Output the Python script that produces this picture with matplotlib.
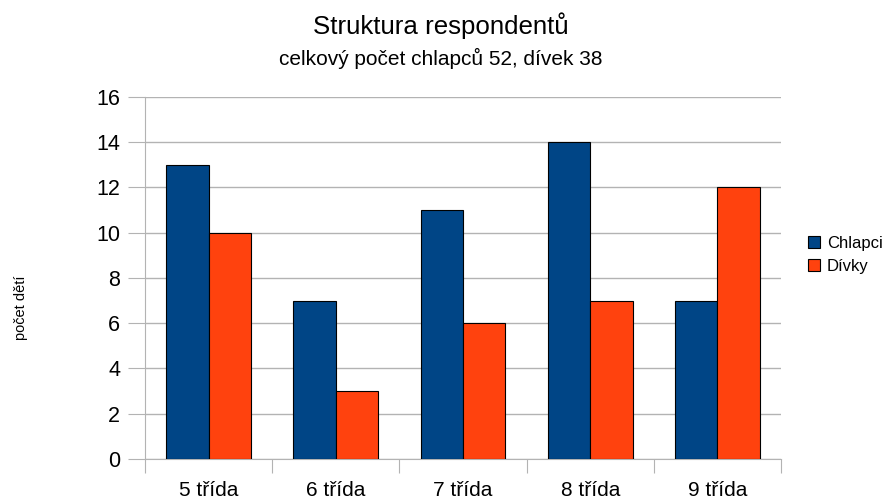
import matplotlib
matplotlib.use("Agg")
import matplotlib.pyplot as plt
import numpy as np

plt.rcParams["font.family"] = ["Liberation Sans", "DejaVu Sans"]

categories = ["5 třída", "6 třída", "7 třída", "8 třída", "9 třída"]
chlapci = [13, 7, 11, 14, 7]
divky = [10, 3, 6, 7, 12]

BLUE = "#004586"
ORANGE = "#ff420e"
GRID = "#b3b3b3"

fig = plt.figure(figsize=(8.82, 4.99), dpi=100)
ax = fig.add_axes([0.1644, 0.0802, 0.7211, 0.7254])

x = np.arange(len(categories)) + 0.5
w = 0.334
ax.bar(x - w / 2, chlapci, w, color=BLUE, edgecolor="black", linewidth=0.8,
       label="Chlapci", zorder=3)
ax.bar(x + w / 2, divky, w, color=ORANGE, edgecolor="black", linewidth=0.8,
       label="Dívky", zorder=3)

ax.set_xlim(0, len(categories))
ax.set_ylim(0, 16)
ax.set_yticks(range(0, 17, 2))
ax.yaxis.grid(True, color=GRID, linewidth=1, zorder=0)
ax.tick_params(axis="y", length=12, color=GRID, labelsize=15.5, pad=6)

# category boundaries get tick marks, labels sit at the centres
ax.set_xticks(range(len(categories) + 1))
ax.set_xticklabels([])
ax.set_xticks(x, minor=True)
ax.set_xticklabels(categories, minor=True)
ax.tick_params(axis="x", which="major", length=10, color=GRID)
ax.tick_params(axis="x", which="minor", length=0, labelsize=15, pad=16)

for s in ["top", "right"]:
    ax.spines[s].set_visible(False)
ax.spines["left"].set_color(GRID)
ax.spines["bottom"].set_color(GRID)

fig.text(0.5, 0.948, "Struktura respondentů", ha="center", va="center", fontsize=18.6)
fig.text(0.5, 0.882, "celkový počet chlapců 52, dívek 38", ha="center", va="center",
         fontsize=15)
fig.text(0.024, 0.383, "počet dětí", rotation=90, ha="center", va="center", fontsize=10.5)

leg = fig.legend(loc="upper left", bbox_to_anchor=(0.908, 0.54), frameon=False,
                 fontsize=12, handlelength=0.75, handleheight=0.75,
                 handletextpad=0.4, labelspacing=0.45, borderaxespad=0)

fig.savefig("out.png", dpi=100)
